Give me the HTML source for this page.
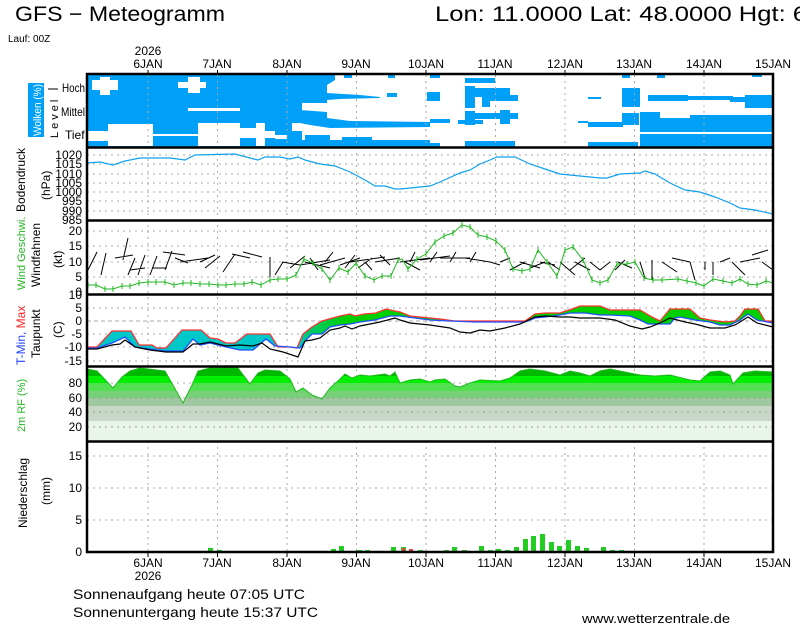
<!DOCTYPE html>
<html><head><meta charset="utf-8"><style>
html,body{margin:0;padding:0;background:#fff}
svg{display:block}
text{font-family:"Liberation Sans",sans-serif;font-size:12px;fill:#000}
.g{stroke:#aaa;stroke-width:1;stroke-dasharray:2,4;fill:none}
</style></head><body>
<svg width="800" height="625" viewBox="0 0 800 625" xmlns="http://www.w3.org/2000/svg">
<defs>
<clipPath id="rhc"><polygon points="87,441 87,369 97,371 113,388 122,377 130,371 140,368 165,371 183,403 192,385 198,371 210,368 238,368 250,384 258,373 265,370 280,371 290,379 296,392 303,388 312,395 322,399 330,388 338,381 345,374 352,378 360,375 370,376 385,374 390,376 395,372 400,383 410,380 420,379 430,382 435,380 445,379 455,386 460,387 470,383 480,380 500,381 510,378 520,371 530,369 545,371 560,375 570,371 580,373 590,376 600,371 610,369 620,371 640,375 655,376 670,375 690,380 700,381 710,372 720,371 730,375 733,384 743,373 755,371 773,372 773,441"/></clipPath>
<linearGradient id="tg" gradientUnits="userSpaceOnUse" x1="87" y1="0" x2="773" y2="0">
<stop offset="0" stop-color="#00c8c8"/><stop offset="0.31" stop-color="#00c8c8"/><stop offset="0.32" stop-color="#00c878"/><stop offset="0.38" stop-color="#00d000"/><stop offset="1" stop-color="#00d000"/></linearGradient>
</defs>

<text x="15" y="21" style="font-size:21px" textLength="210" lengthAdjust="spacingAndGlyphs">GFS − Meteogramm</text>
<text x="435" y="21" style="font-size:21px" textLength="372" lengthAdjust="spacingAndGlyphs">Lon: 11.0000 Lat: 48.0000 Hgt: 6</text>
<text x="8" y="42" style="font-size:10px">Lauf: 00Z</text>
<g text-anchor="middle">
<text x="148" y="55">2026</text>
<text x="148" y="68">6JAN</text><text x="217" y="68">7JAN</text><text x="287" y="68">8JAN</text><text x="356" y="68">9JAN</text><text x="426" y="68">10JAN</text><text x="495" y="68">11JAN</text><text x="565" y="68">12JAN</text><text x="634" y="68">13JAN</text><text x="704" y="68">14JAN</text><text x="773" y="68">15JAN</text>
</g>

<!-- cloud panel -->
<rect x="87" y="75" width="215" height="72" fill="#00a0f8"/>
<g fill="#fff">
<rect x="92" y="80" width="26" height="10"/><rect x="100" y="77" width="10" height="18"/>
<rect x="178" y="82" width="28" height="6"/><rect x="188" y="77" width="12" height="16"/>
<rect x="188" y="108" width="52" height="3"/>
<rect x="88" y="131" width="65" height="10"/><rect x="108" y="124" width="45" height="22"/><rect x="120" y="141" width="15" height="5"/>
<rect x="153" y="134" width="45" height="2"/>
<rect x="198" y="123" width="42" height="23"/><rect x="240" y="128" width="18" height="10"/><rect x="256" y="123" width="9" height="23"/><rect x="265" y="131" width="10" height="7"/><rect x="275" y="135" width="12" height="4"/>
<rect x="292" y="123" width="10" height="8"/>
</g>
<polygon fill="#00a0f8" points="300,75 335,75 335,80 327,85 327,93 360,95 380,97 380,98 340,99 327,100 327,103 300,103"/>
<polygon fill="#00a0f8" points="300,110 327,112 327,118 350,121 430,122 430,127 330,128 310,125 300,123"/>
<g fill="#00a0f8">
<rect x="300" y="140" width="130" height="7"/><rect x="342" y="137" width="30" height="5"/><rect x="305" y="135" width="25" height="7"/><rect x="344" y="75" width="8" height="3"/><rect x="388" y="75" width="7" height="3"/><rect x="387" y="93" width="10" height="4"/>
<rect x="430" y="75" width="10" height="3"/><rect x="427" y="92" width="13" height="9"/>
<rect x="465" y="78" width="30" height="5"/><rect x="465" y="86" width="10" height="22"/><rect x="475" y="88" width="35" height="9"/><rect x="488" y="95" width="30" height="6"/><rect x="482" y="97" width="8" height="10"/>
<rect x="465" y="111" width="10" height="14"/><rect x="473" y="113" width="45" height="6"/><rect x="500" y="110" width="10" height="14"/><rect x="458" y="120" width="25" height="4"/>
<rect x="400" y="122" width="16" height="3"/><rect x="430" y="119" width="20" height="4"/>
<rect x="400" y="143" width="40" height="4"/><rect x="465" y="141" width="50" height="6"/><rect x="588" y="142" width="50" height="5"/>
<rect x="588" y="97" width="13" height="2"/><rect x="578" y="121" width="10" height="2"/>
<rect x="622" y="88" width="18" height="19"/><rect x="622" y="113" width="17" height="12"/><rect x="588" y="122" width="35" height="5"/>
<rect x="622" y="75" width="8" height="3"/><rect x="657" y="75" width="8" height="3"/><rect x="752" y="75" width="10" height="2"/>
<rect x="648" y="95" width="40" height="6"/><rect x="688" y="96" width="45" height="4"/><rect x="730" y="97" width="43" height="5"/><rect x="745" y="95" width="28" height="13"/>
<rect x="640" y="118" width="133" height="29"/><rect x="640" y="112" width="20" height="8"/><rect x="690" y="115" width="83" height="6"/>
</g>
<rect x="640" y="132" width="133" height="2" fill="#fff"/>
<text x="62" y="92" font-size="11" textLength="23" lengthAdjust="spacingAndGlyphs">Hoch</text><text x="61" y="116" font-size="11" textLength="24" lengthAdjust="spacingAndGlyphs">Mittel</text><text x="65" y="139" font-size="11">Tief</text>
<g stroke="#000"><line x1="48" y1="89" x2="58" y2="89"/></g>
<rect x="28" y="83" width="16" height="54" fill="#00a0f8"/>
<text transform="translate(41,136) rotate(-90)" style="fill:#fff;font-size:11px" textLength="52" lengthAdjust="spacingAndGlyphs">Wolken (%)</text>
<text transform="translate(58,138) rotate(-90)" style="font-size:11px;letter-spacing:3px">Level</text>

<!-- grids -->
<g class="g">
<path d="M148 75V552M217.5 75V552M287 75V552M356.5 75V552M426 75V552M495.5 75V552M565 75V552M634.5 75V552M704 75V552"/>
<path d="M87 155H773M87 164H773M87 174H773M87 183H773M87 192H773M87 201H773M87 211H773"/>
<path d="M87 231H773M87 246H773M87 262H773M87 277H773"/>
<path d="M87 308H773M87 334H773M87 347H773M87 361H773"/>
<path d="M87 383H773M87 398H773M87 412H773M87 427H773"/>
<path d="M87 456H773M87 488H773M87 520H773"/>
</g>
<line x1="87" y1="321" x2="773" y2="321" stroke="#aaa" stroke-dasharray="4,3"/>

<!-- pressure -->
<polyline fill="none" stroke="#10a0f0" stroke-width="1.2" points="87,163 100,162 113,165 125,161 140,158 170,158 185,160 195,155 235,154 250,158 258,160 265,157 280,157 290,159 298,157 305,160 320,164 335,166 350,172 365,180 375,186 385,186 395,189 400,189 430,186 440,182 460,173 470,170 480,164 490,160 497,157 515,157 530,164 545,169 560,174 580,176 600,178 607,178 620,174 640,173 645,171 655,174 670,183 685,190 700,192 715,197 730,203 740,208 755,210 773,214"/>
<g text-anchor="end" font-size="11">
<text x="82" y="159">1020</text><text x="82" y="168">1015</text><text x="82" y="178">1010</text><text x="82" y="187">1005</text><text x="82" y="196">1000</text><text x="82" y="205">995</text><text x="82" y="215">990</text><text x="82" y="224">985</text>
<text x="82" y="235">20</text><text x="82" y="250">15</text><text x="82" y="266">10</text><text x="82" y="281">5</text><text x="82" y="296">0</text>
<text x="82" y="299">10</text><text x="82" y="312">5</text><text x="82" y="325">0</text><text x="82" y="338">-5</text><text x="82" y="351">-10</text><text x="82" y="365">-15</text>
<text x="82" y="387">80</text><text x="82" y="402">60</text><text x="82" y="416">40</text><text x="82" y="431">20</text>
<text x="82" y="460">15</text><text x="82" y="492">10</text><text x="82" y="524">5</text><text x="82" y="556">0</text>
</g>
<text transform="translate(25,212) rotate(-90)" font-size="11">Bodendruck</text>
<text transform="translate(50,200) rotate(-90)" font-size="11">(hPa)</text>

<!-- wind barbs approx -->
<g stroke="#000" stroke-width="1" fill="none">
<path d="M88,270 L97,252 M101,275 L106,253 M123,260 L128,238 M115,258 L133,255 M128,275 L135,258 M130,270 L145,268 M138,275 L145,255 M150,275 L157,256 M152,268 L167,268 M165,270 L172,251 M163,252 L185,255 M175,258 L188,263 M180,262 L208,258 M200,262 L215,255 M205,268 L220,256 M223,272 L235,254 M232,254 L250,258 M243,252 L262,257"/>
<path d="M270,257 L270,278 M275,275 L283,262 M282,262 L300,265 M290,268 L305,256 M300,265 L330,260 M305,262 L330,268 M320,265 L345,258 M340,265 L360,258 M350,262 L385,257 M358,268 L372,258 M375,262 L400,258 M400,262 L430,258 M405,262 L420,270 M420,260 L450,256 M440,258 L470,258 M465,258 L490,262 M490,262 L500,265 M500,262 L510,258 M510,270 L525,262 M520,262 L540,268 M540,262 L555,265 M548,262 L560,270 M560,262 L575,275 M570,270 L585,258 M590,262 L600,270 M600,270 L610,262 M615,270 L625,260 M640,262 L645,278 M652,260 L652,280 M662,262 L677,272 M672,258 L690,262 M690,262 L695,280 M705,262 L705,270 M713,262 L713,275 M720,262 L730,258 M732,262 L745,275 M740,262 L760,258 M752,255 L768,250 M762,262 L773,270"/>
<path d="M310,258 L318,270 M325,262 L333,252 M345,268 L355,255 M365,262 L372,270 M380,255 L390,265 M410,262 L415,252 M430,262 L437,252 M450,262 L456,252 M470,262 L476,252 M530,268 L545,262 M575,262 L590,270 M618,262 L632,268"/>
</g>
<polyline fill="none" stroke="#22b822" stroke-width="1" points="88,285 96,285 105,289 113,289 122,286 130,286 139,283 148,282 156,282 165,282 174,285 183,283 191,283 200,284 209,284 218,285 226,285 235,284 244,284 252,282 261,285 270,280 278,279 287,279 296,275 304,259 313,263 322,269 330,280 339,268 348,272 356,263 365,276 374,280 382,276 391,276 398,260 402,259 408,269 417,259 426,254 435,242 444,236 453,233 462,225 470,227 478,235 487,237 496,241 505,250 513,269 522,271 530,269 538,250 547,262 557,276 565,250 573,247 583,260 592,280 600,283 608,280 617,264 627,264 635,262 644,278 653,280 662,280 678,279 687,281 696,283 704,286 713,279 723,281 732,283 740,279 748,284 757,285 766,281 773,283"/>
<g fill="none" stroke="#22b822" stroke-width="1">
<path d="M88,282v6M96,282v6M105,286v6M113,286v6M122,283v6M130,283v6M139,280v6M148,279v6M156,279v6M165,279v6M174,282v6M183,280v6M191,280v6M200,281v6M209,281v6M218,282v6M226,282v6M235,281v6M244,281v6M252,279v6M261,282v6M270,277v6M278,276v6M287,276v6M296,272v6M304,256v6M313,260v6M322,266v6M330,277v6M339,265v6M348,269v6M356,260v6M365,273v6M374,277v6M382,273v6M391,273v6M398,257v6M408,266v6M417,256v6M426,251v6M435,239v6M444,233v6M453,230v6M462,222v6M470,224v6M478,232v6M487,234v6M496,238v6M505,247v6M513,266v6M522,268v6M530,266v6M538,247v6M547,259v6M557,273v6M565,247v6M573,244v6M583,257v6M592,277v6M600,280v6M608,277v6M617,261v6M627,261v6M635,259v6M644,275v6M653,277v6M662,277v6M678,276v6M687,278v6M696,280v6M704,283v6M713,276v6M723,278v6M732,280v6M740,276v6M748,281v6M757,282v6M766,278v6"/>
</g>
<text transform="translate(25,290) rotate(-90)" style="fill:#22b822;font-size:11px">Wind Geschwi.</text>
<text transform="translate(40,287) rotate(-90)" font-size="11">Windfahnen</text>
<text transform="translate(62,268) rotate(-90)" font-size="11">(kt)</text>

<!-- temperature -->
<polygon fill="url(#tg)" points="88,347 97,347 112,331 131,331 139,345 152,345 157,348 166,348 182,330 201,330 210,338 218,339 226,343 235,343 247,334 270,334 278,347 290,347 297,348 303,334 312,327 322,321 340,316 350,314 355,316 364,314 376,313 386,309 395,311 400,312 410,316 420,317 440,319 455,321 475,321 500,321 525,321 535,314 545,313 560,313 575,308 580,306 600,306 610,310 640,310 652,317 660,321 670,309 690,309 700,318 710,320 725,322 735,321 740,316 745,309 758,309 765,321 773,321 773,323 757,320 748,314 740,320 730,325 720,325 710,322 695,320 680,317 675,318 670,324 648,324 640,320 630,316 610,315 600,315 585,313 570,313 560,315 545,317 535,318 525,322 515,322 475,322 450,321 430,320 415,318 400,316 390,316 375,320 360,322 350,324 340,325 330,327 322,334 312,334 306,340 300,348 290,347 275,346 266,339 253,350 240,350 226,347 210,343 200,345 193,339 183,351 165,351 150,349 135,347 125,337 112,343 97,348 88,348"/>
<polyline fill="none" stroke="#ff3030" stroke-width="1.3" points="88,347 97,347 112,331 131,331 139,345 152,345 157,348 166,348 182,330 201,330 210,338 218,339 226,343 235,343 247,334 270,334 278,347 290,347 297,348 303,334 312,327 322,321 340,316 350,314 355,316 364,314 376,313 386,309 395,311 400,312 410,316 420,317 440,319 455,321 475,321 500,321 525,321 535,314 545,313 560,313 575,308 580,306 600,306 610,310 640,310 652,317 660,321 670,309 690,309 700,318 710,320 725,322 735,321 740,316 745,309 758,309 765,321 773,321"/>
<polyline fill="none" stroke="#2050ff" stroke-width="1.3" points="88,348 97,348 112,343 125,337 135,347 150,349 165,351 183,351 193,339 200,345 210,343 226,347 240,350 253,350 266,339 275,346 290,347 300,348 306,340 312,334 322,334 330,327 340,325 350,324 360,322 375,320 390,316 400,316 415,318 430,320 450,321 475,322 515,322 525,322 535,318 545,317 560,315 570,313 585,313 600,315 610,315 630,316 640,320 648,324 670,324 675,318 680,317 695,320 710,322 720,325 730,325 740,320 748,314 757,320 773,323"/>
<polyline fill="none" stroke="#000" stroke-width="1.2" points="88,349 97,349 112,345 120,344 125,340 135,347 150,350 166,352 183,352 193,344 200,344 210,342 226,346 240,345 253,346 262,343 270,349 283,352 298,357 305,341 312,340 320,338 330,330 340,328 345,326 352,329 360,326 380,322 395,318 400,320 410,323 430,325 450,328 460,332 470,333 480,330 490,331 505,328 520,324 535,317 545,316 560,317 570,317 580,318 600,318 615,320 630,326 642,329 650,327 660,323 670,318 685,322 695,324 710,328 725,328 735,325 748,317 757,323 773,327"/>
<text transform="translate(25,365) rotate(-90)" font-size="11"><tspan style="fill:#2040ff">T-Min,</tspan> <tspan style="fill:#ff2020">Max</tspan></text>
<text transform="translate(40,358) rotate(-90)" font-size="11">Taupunkt</text>
<text transform="translate(62,338) rotate(-90)" font-size="11">(C)</text>

<!-- RH -->
<g clip-path="url(#rhc)">
<rect x="87" y="367" width="686" height="9" fill="#00b800"/>
<rect x="87" y="376" width="686" height="7" fill="#00ee00"/>
<rect x="87" y="383" width="686" height="8" fill="#50e050"/>
<rect x="87" y="391" width="686" height="7" fill="#78d078"/>
<rect x="87" y="398" width="686" height="8" fill="#a0c8a0"/>
<rect x="87" y="406" width="686" height="15" fill="#c8d8c8"/>
<rect x="87" y="421" width="686" height="20" fill="#eaf5ea"/>
</g>
<g class="g" style="stroke:#999"><path d="M87 398H773M87 412H773M87 427H773"/></g>
<polyline fill="none" stroke="#22b822" points="87,369 97,371 113,388 122,377 130,371 140,368 165,371 183,403 192,385 198,371 210,368 238,368 250,384 258,373 265,370 280,371 290,379 296,392 303,388 312,395 322,399 330,388 338,381 345,374 352,378 360,375 370,376 385,374 390,376 395,372 400,383 410,380 420,379 430,382 435,380 445,379 455,386 460,387 470,383 480,380 500,381 510,378 520,371 530,369 545,371 560,375 570,371 580,373 590,376 600,371 610,369 620,371 640,375 655,376 670,375 690,380 700,381 710,372 720,371 730,375 733,384 743,373 755,371 773,372"/>
<text transform="translate(25,432) rotate(-90)" style="fill:#22b822;font-size:11px">2m RF (%)</text>

<!-- precip -->
<g fill="#22cc22">
<rect x="208" y="548" width="5" height="4"/><rect x="217" y="550" width="5" height="2"/>
<rect x="331" y="549" width="5" height="3"/><rect x="339" y="546" width="5" height="6"/><rect x="357" y="550" width="5" height="2"/><rect x="365" y="550" width="5" height="2"/>
<rect x="391" y="547" width="5" height="5"/><rect x="401" y="547" width="5" height="5"/><rect x="418" y="550" width="5" height="2"/>
<rect x="444" y="550" width="5" height="2"/><rect x="452" y="547" width="5" height="5"/><rect x="462" y="550" width="5" height="2"/>
<rect x="479" y="546" width="5" height="6"/><rect x="488" y="550" width="5" height="2"/><rect x="496" y="549" width="5" height="3"/><rect x="505" y="550" width="5" height="2"/><rect x="514" y="547" width="5" height="5"/>
<rect x="523" y="539" width="5" height="13"/><rect x="531" y="536" width="5" height="16"/><rect x="540" y="534" width="5" height="18"/><rect x="549" y="542" width="5" height="10"/><rect x="557" y="546" width="5" height="6"/><rect x="566" y="540" width="5" height="12"/><rect x="575" y="546" width="5" height="6"/><rect x="584" y="548" width="5" height="4"/>
<rect x="601" y="547" width="5" height="5"/><rect x="610" y="550" width="5" height="2"/><rect x="619" y="550" width="5" height="2"/>
</g>
<g fill="#ee4040"><rect x="402" y="548" width="3" height="4"/><rect x="409" y="549" width="4" height="3"/><rect x="427" y="551" width="3" height="1"/></g>
<text transform="translate(27,528) rotate(-90)" font-size="11">Niederschlag</text>
<text transform="translate(50,505) rotate(-90)" font-size="11">(mm)</text>

<!-- frames -->
<g stroke="#000" fill="none">
<rect x="87" y="74" width="686" height="478" stroke-width="2.5"/>
<path d="M87 147.5H773M87 220.5H773M87 294.5H773M87 366.5H773M87 441.5H773" stroke-width="2.5"/>
<path d="M148 552v5M217.5 552v5M287 552v5M356.5 552v5M426 552v5M495.5 552v5M565 552v5M634.5 552v5M704 552v5M148 70v5M217.5 70v5M287 70v5M356.5 70v5M426 70v5M495.5 70v5M565 70v5M634.5 70v5M704 70v5"/>
</g>
<g text-anchor="middle">
<text x="148" y="567">6JAN</text><text x="217" y="567">7JAN</text><text x="287" y="567">8JAN</text><text x="356" y="567">9JAN</text><text x="426" y="567">10JAN</text><text x="495" y="567">11JAN</text><text x="565" y="567">12JAN</text><text x="634" y="567">13JAN</text><text x="704" y="567">14JAN</text><text x="773" y="567">15JAN</text>
<text x="148" y="580">2026</text>
</g>
<text x="73" y="599" style="font-size:14px" textLength="232" lengthAdjust="spacingAndGlyphs">Sonnenaufgang heute 07:05 UTC</text>
<text x="73" y="617" style="font-size:14px" textLength="245" lengthAdjust="spacingAndGlyphs">Sonnenuntergang heute 15:37 UTC</text>
<text x="582" y="623" style="font-size:13px" textLength="148" lengthAdjust="spacingAndGlyphs">www.wetterzentrale.de</text>
</svg>
</body></html>
